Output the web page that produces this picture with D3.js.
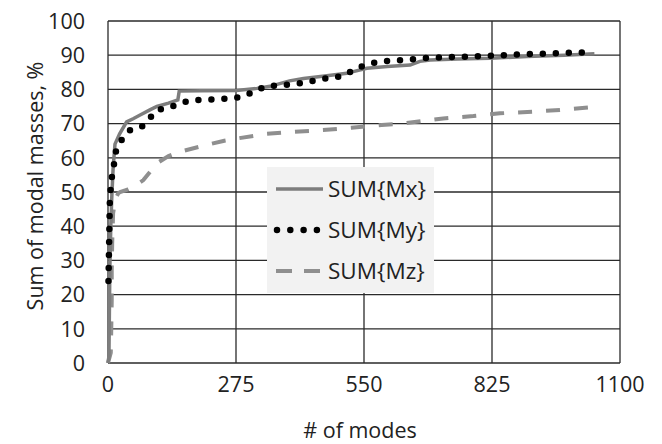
<!DOCTYPE html>
<html>
<head>
<meta charset="utf-8">
<script src="https://cdn.jsdelivr.net/npm/d3@7"></script>
<style>
  body { margin: 0; background: #fff; }
  text { font-family: "Open Sans", sans-serif; fill: #222; }
</style>
</head>
<body>
<div id="chart"></div>
<script>
const width = 662;
const height = 444;

// data: [mode number, cumulative %]
var mx_data = [[0,0],[2,2],[3,15],[4,28],[6,40],[8,48],[11,57],[15,64],[25,67],[40,70.5],[55,71.5],[69,72.5],
  [90,74],[105,75],[130,76],[150,76.9],[153,79.5],[200,79.6],[276,79.7],[320,80.3],[348,80.9],[390,82.5],
  [420,83.2],[470,84],[513,84.7],[527,85.2],[556,86.2],[600,86.7],[649,87.1],[670,88.2],[692,88.6],
  [750,88.9],[820,89.1],[900,89.6],[980,90],[1045,90.4]];
var my_data = [[1,24],[2,32],[3,40],[4,47.7],[6,51.5],[10,56.4],[15,59.4],[18,63],[32,65.7],[46,68],[72,69],
  [89,71.5],[105,74],[132,74.7],[153,75.9],[180,76.9],[220,77],[266,77.4],[293,78],[316,79.6],[341,81],
  [370,81.1],[397,81.6],[425,82],[452,82.9],[480,83.4],[507,84],[531,86],[557,87.3],[583,88.1],[611,88.4],
  [641,88.6],[670,89.1],[750,89.5],[813,89.8],[899,90.3],[970,90.6],[1045,90.9]];
var mz_data = [[0,0],[6,3],[7,10],[8,18],[8,27],[9,35],[11,43.8],[16,48],[22,49.6],[26,50],[40,50.6],
  [60,52],[76,53.5],[105,58.4],[130,60.5],[155,61.8],[190,63],[219,64],[250,65],[280,65.7],[341,67],
  [398,67.6],[462,68.1],[523,68.8],[588,69.6],[627,69.9],[720,71.5],[785,72.2],[842,73],[913,73.5],
  [971,74],[1040,74.8]];

var x_ticks = [0, 275, 550, 825, 1100];
var y_ticks = [0, 10, 20, 30, 40, 50, 60, 70, 80, 90, 100];
var series_names = ['SUM{Mx}', 'SUM{My}', 'SUM{Mz}'];

const plot_left = 108, plot_right = 620, plot_top = 21, plot_bottom = 363;

var svg = d3.select('#chart')
            .append('svg')
            .attr('width', width)
            .attr('height', height);
svg.append('rect').attr('width', width).attr('height', height).attr('fill', '#fff');

var xScale = d3.scaleLinear().domain([0, 1100]).range([plot_left, plot_right]);
var yScale = d3.scaleLinear().domain([0, 100]).range([plot_bottom, plot_top]);

// grid
svg.append('g')
    .selectAll('line')
    .data(y_ticks)
    .enter()
    .append('line')
    .attr('x1', plot_left).attr('x2', plot_right)
    .attr('y1', function(d){ return yScale(d); })
    .attr('y2', function(d){ return yScale(d); })
    .attr('stroke', '#2a2a2a')
    .attr('stroke-width', 1.3);
svg.append('g')
    .selectAll('line')
    .data(x_ticks)
    .enter()
    .append('line')
    .attr('y1', plot_top).attr('y2', plot_bottom)
    .attr('x1', function(d){ return xScale(d); })
    .attr('x2', function(d){ return xScale(d); })
    .attr('stroke', '#2a2a2a')
    .attr('stroke-width', 1.3);

// tick labels
svg.append('g')
    .selectAll('text')
    .data(y_ticks)
    .enter()
    .append('text')
    .attr('x', 85)
    .attr('y', function(d){ return yScale(d); })
    .attr('dy', '0.36em')
    .attr('text-anchor', 'end')
    .attr('font-size', 21.5)
    .text(function(d){ return d; });
svg.append('g')
    .selectAll('text')
    .data(x_ticks)
    .enter()
    .append('text')
    .attr('x', function(d){ return xScale(d); })
    .attr('y', 384)
    .attr('dy', '0.36em')
    .attr('text-anchor', 'middle')
    .attr('font-size', 21.5)
    .text(function(d){ return d; });

svg.append('text')
    .attr('x', 360).attr('y', 430).attr('dy', '0.36em')
    .attr('text-anchor', 'middle')
    .attr('font-size', 21.5)
    .text('# of modes');
svg.append('text')
    .attr('transform', 'translate(35,186) rotate(-90)')
    .attr('dy', '0.36em')
    .attr('text-anchor', 'middle')
    .attr('font-size', 21.5)
    .text('Sum of modal masses, %');

// curves
var line = d3.line()
    .x(function(d){ return xScale(d[0]); })
    .y(function(d){ return yScale(d[1]); });

svg.append('path').datum(mz_data)
    .attr('d', line).attr('fill', 'none')
    .attr('stroke', '#8f8f8f').attr('stroke-width', 4)
    .attr('stroke-dasharray', '14 14');
svg.append('path').datum(mx_data)
    .attr('d', line).attr('fill', 'none')
    .attr('stroke', '#7d7d7d').attr('stroke-width', 3.5);
svg.append('path').datum(my_data)
    .attr('d', line).attr('fill', 'none')
    .attr('stroke', '#000').attr('stroke-width', 6.5)
    .attr('stroke-linecap', 'round')
    .attr('stroke-dasharray', '0 13');

// legend
var lg = svg.append('g').attr('transform', 'translate(267,167)');
lg.append('rect').attr('width', 167).attr('height', 126).attr('fill', '#f2f2f2');
var rows = [22, 63, 104];
lg.append('line').attr('x1', 9).attr('x2', 56).attr('y1', rows[0]).attr('y2', rows[0])
    .attr('stroke', '#7d7d7d').attr('stroke-width', 3.5);
lg.append('line').attr('x1', 10).attr('x2', 56).attr('y1', rows[1]).attr('y2', rows[1])
    .attr('stroke', '#000').attr('stroke-width', 6.5)
    .attr('stroke-linecap', 'round').attr('stroke-dasharray', '0 13.3');
lg.append('line').attr('x1', 9).attr('x2', 54).attr('y1', rows[2]).attr('y2', rows[2])
    .attr('stroke', '#8f8f8f').attr('stroke-width', 4).attr('stroke-dasharray', '16 12');
lg.selectAll('.lg_text')
    .data(series_names)
    .enter()
    .append('text')
    .attr('class', 'lg_text')
    .attr('x', 61)
    .attr('y', function(d, i){ return rows[i]; })
    .attr('dy', '0.36em')
    .attr('font-size', 22.5)
    .text(function(d){ return d; });
</script>
</body>
</html>
